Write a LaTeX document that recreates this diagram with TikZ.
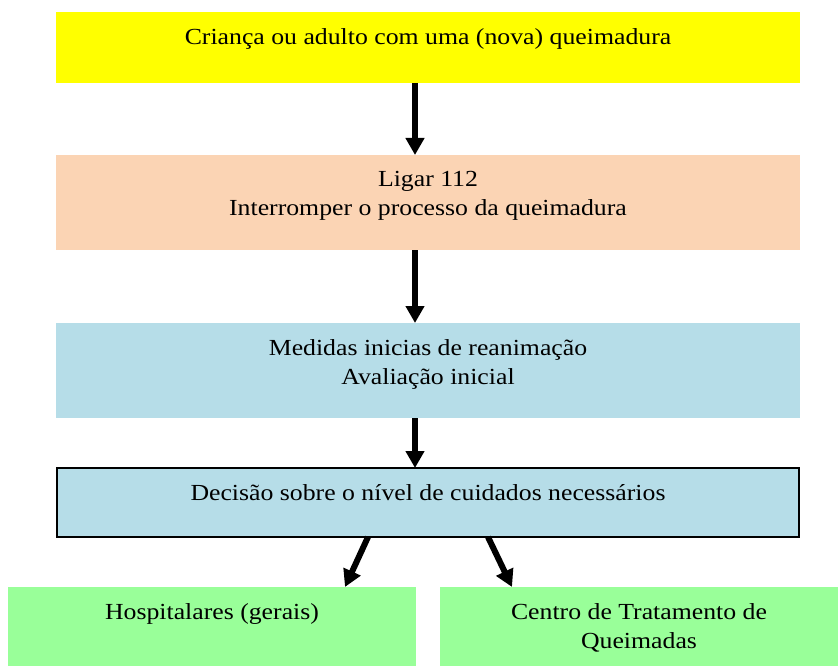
\documentclass[tikz,border=0pt]{standalone}
\usepackage{fontspec}
\setmainfont{Liberation Serif}[FakeStretch=1.12]
\usetikzlibrary{arrows.meta,calc}
\definecolor{cyellow}{HTML}{FFFF00}
\definecolor{cpeach}{HTML}{FBD4B4}
\definecolor{cblue}{HTML}{B6DDE8}
\definecolor{cgreen}{HTML}{99FF99}
\tikzset{
  box/.style={draw=none,inner sep=0pt,outer sep=0pt},
  lbl/.style={anchor=north,inner sep=0pt,align=center,font=\fontsize{23}{29}\selectfont},
  arr/.style={line width=6pt,-{Triangle[width=18pt,length=17pt]}},
}
\begin{document}
\begin{tikzpicture}[x=1pt,y=-1pt]
\useasboundingbox (0,0) rectangle (838,666);
\node[box,fill=cyellow,minimum width=744pt,minimum height=71pt] (b1) at (428,47.5) {};
\node[box,fill=cpeach,minimum width=744pt,minimum height=95pt] (b2) at (428,202.5) {};
\node[box,fill=cblue,minimum width=744pt,minimum height=95pt] (b3) at (428,370.5) {};
\node[box,fill=cblue,draw=black,line width=2pt,minimum width=742pt,minimum height=69pt] (b4) at (428,502.5) {};
\node[box,fill=cgreen,minimum width=408pt,minimum height=79pt] (b5) at (212,626.5) {};
\node[box,fill=cgreen,minimum width=398pt,minimum height=79pt] (b6) at (639,626.5) {};
\node[lbl] (t1) at ($(b1.north)+(0,16)$) {Criança ou adulto com uma (nova) queimadura};
\node[lbl] (t2) at ($(b2.north)+(0,16)$) {Ligar 112\\Interromper o processo da queimadura};
\node[lbl] (t3) at ($(b3.north)+(0,16)$) {Medidas inicias de reanimação\\Avaliação inicial};
\node[lbl] (t4) at ($(b4.north)+(0,16)$) {Decisão sobre o nível de cuidados necessários};
\node[lbl] (t5) at ($(b5.north)+(0,16)$) {Hospitalares (gerais)};
\node[lbl] (t6) at ($(b6.north)+(0,16)$) {Centro de Tratamento de\\Queimadas};
\coordinate (ax) at (415,0);
\coordinate (l1) at (368,0);
\coordinate (l2) at (345,0);
\coordinate (r1) at (488,0);
\coordinate (r2) at (512,0);
\draw[arr] (b1.south -| ax) -- (b2.north -| ax);
\draw[arr] (b2.south -| ax) -- (b3.north -| ax);
\draw[arr] (b3.south -| ax) -- (b4.north -| ax);
\draw[arr] (b4.south -| l1) -- (b5.north -| l2);
\draw[arr] (b4.south -| r1) -- (b6.north -| r2);
\end{tikzpicture}
\end{document}
